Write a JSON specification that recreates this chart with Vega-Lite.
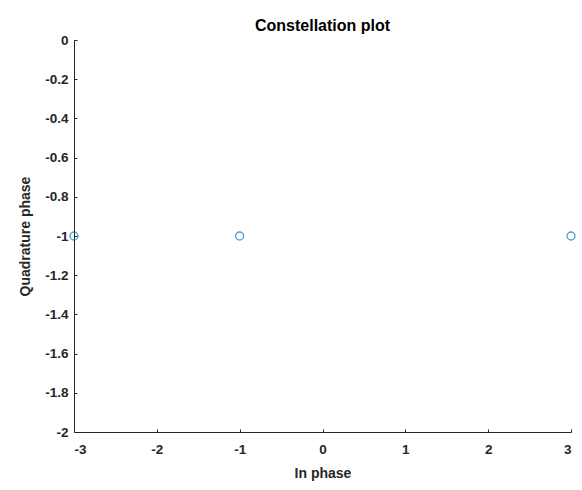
{
  "$schema": "https://vega.github.io/schema/vega-lite/v6.json",
  "autosize": "none",
  "width": 497,
  "height": 392,
  "padding": {"left": 74, "top": 40, "right": 11, "bottom": 58},
  "background": "white",
  "title": {"text": "Constellation plot", "font": "Liberation Sans", "fontSize": 16, "fontWeight": "bold", "color": "#000000", "offset": -1},
  "data": {"values": [
    {"I": -3, "Q": -1},
    {"I": -1, "Q": -1},
    {"I": 3, "Q": -1}
  ]},
  "mark": {"type": "point", "shape": "circle", "filled": false, "color": "#0072BD", "size": 64, "strokeWidth": 1.3, "clip": false},
  "encoding": {
    "x": {"field": "I", "type": "quantitative", "title": "In phase",
      "scale": {"domain": [-3, 3], "nice": false, "zero": false},
      "axis": {"values": [-3, -2, -1, 0, 1, 2, 3], "labelExpr": "datum.value + ''", "grid": false, "tickSize": -3, "labelPadding": 13, "titlePadding": 11}},
    "y": {"field": "Q", "type": "quantitative", "title": "Quadrature phase",
      "scale": {"domain": [-2, 0], "nice": false, "zero": false},
      "axis": {"values": [-2, -1.8, -1.6, -1.4, -1.2, -1, -0.8, -0.6, -0.4, -0.2, 0], "labelExpr": "datum.value + ''", "grid": false, "tickSize": -3, "labelPadding": 9, "titlePadding": 12}}
  },
  "config": {
    "view": {"stroke": null},
    "axis": {
      "domainColor": "#262626", "tickColor": "#262626", "labelColor": "#262626", "titleColor": "#262626",
      "labelFont": "Liberation Sans", "labelFontSize": 13.5, "labelFontWeight": "bold",
      "titleFont": "Liberation Sans", "titleFontSize": 14, "titleFontWeight": "bold",
      "domainWidth": 1, "tickWidth": 1
    }
  }
}
